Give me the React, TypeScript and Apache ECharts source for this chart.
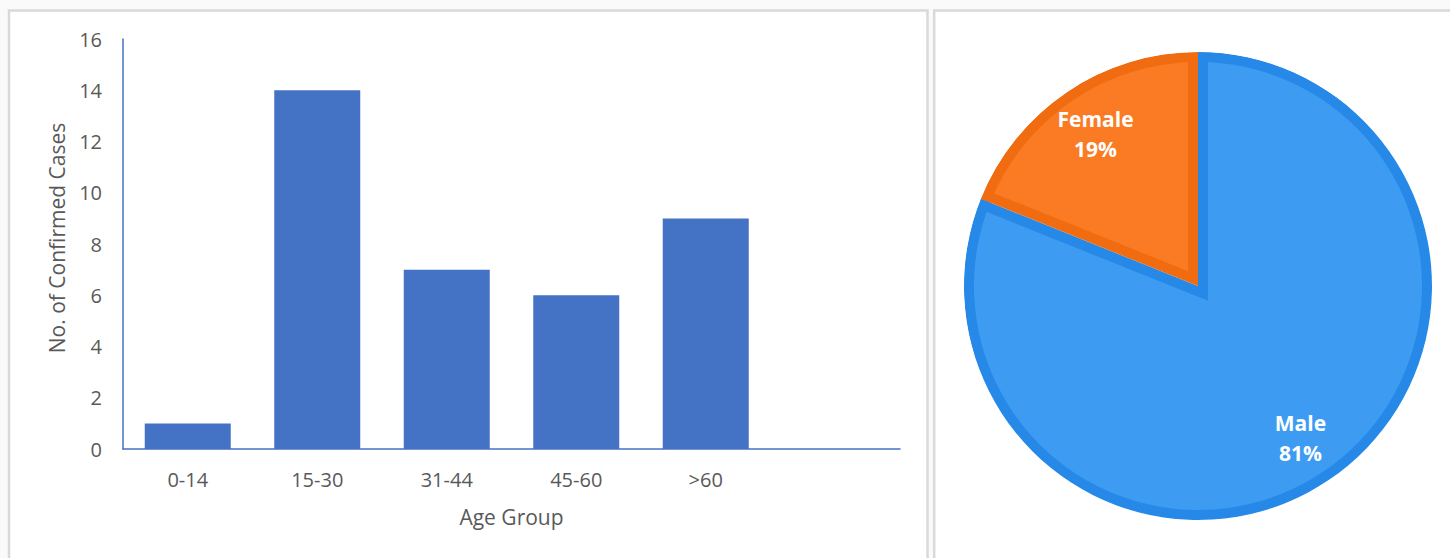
import React, { useEffect, useRef } from "react";
import * as echarts from "echarts";

const ageGroups = ["0-14", "15-30", "31-44", "45-60", ">60", ""];
const confirmedCases = [1, 14, 7, 6, 9, null];
const yTicks = { min: 0, max: 16, interval: 2 };

const genderNames = ["Male", "Female"];
const genderCounts = [30, 7];

const FONT = "'Open Sans', 'Noto Sans', sans-serif";
const GRAY = "#595959";
const BAR = "#4472c4";
const LIGHT = ["#3d9cf2", "#fa7b23"];
const DARK = ["#2689e8", "#f16b10"];

export default function App() {
  const ref = useRef<HTMLDivElement>(null);
  useEffect(() => {
    document.body.style.margin = "0";
    const chart = echarts.init(ref.current!, null, { renderer: "svg" });

    const cx = 1198;
    const cy = 286;
    const R = 234;
    const band = 10;
    const total = genderCounts.reduce((a, b) => a + b, 0);
    // Female bisector (math angle, degrees), slices run clockwise from 12 o'clock
    const femHalf = ((genderCounts[1] / total) * 360) / 2;
    const mid = ((90 + femHalf) * Math.PI) / 180;
    const d = band / Math.sin((femHalf * Math.PI) / 180);
    const ux = Math.cos(mid);
    const uy = -Math.sin(mid);
    const cf = [cx + d * ux, cy + d * uy];
    const cm = [cx - d * ux, cy - d * uy];

    const pieData = (colors: (string | null)[]) =>
      genderNames.map((n, i) => ({
        name: n,
        value: genderCounts[i],
        itemStyle: { color: colors[i] ?? "rgba(0,0,0,0)", borderWidth: 0 },
      }));

    const basePie = {
      type: "pie",
      silent: true,
      startAngle: 90,
      clockwise: true,
      avoidLabelOverlap: false,
      label: { show: false },
      labelLine: { show: false },
      emphasis: { disabled: true },
    };

    chart.setOption({
      animation: false,
      backgroundColor: "#fafafa",
      graphic: [
        {
          type: "rect",
          shape: { x: 9, y: 10.5, width: 918.5, height: 700 },
          style: { fill: "#ffffff", stroke: "#d9d9d9", lineWidth: 2.5 },
          silent: true,
        },
        {
          type: "rect",
          shape: { x: 934.2, y: 10.5, width: 700, height: 700 },
          style: { fill: "#ffffff", stroke: "#d9d9d9", lineWidth: 2.5 },
          silent: true,
        },
      ],
      grid: { left: 123, top: 39, width: 777, height: 410 },
      xAxis: {
        type: "category",
        data: ageGroups,
        axisLine: { show: true, lineStyle: { color: BAR, width: 1.5 } },
        axisTick: { show: false },
        axisLabel: { color: GRAY, fontSize: 20, fontFamily: FONT, margin: 20 },
        name: "Age Group",
        nameLocation: "middle",
        nameGap: 57,
        nameTextStyle: { color: GRAY, fontSize: 21, fontFamily: FONT },
      },
      yAxis: {
        type: "value",
        min: yTicks.min,
        max: yTicks.max,
        interval: yTicks.interval,
        splitLine: { show: false },
        axisLine: { show: true, lineStyle: { color: BAR, width: 1.5 } },
        axisTick: { show: false },
        axisLabel: { color: GRAY, fontSize: 20, fontFamily: FONT, margin: 21 },
        name: "No. of Confirmed Cases",
        nameLocation: "middle",
        nameGap: 56,
        nameTextStyle: {
          color: GRAY,
          fontSize: 21,
          fontFamily: FONT,
          padding: [0, 0, 0, 12],
        },
      },
      series: [
        {
          type: "bar",
          data: confirmedCases,
          barWidth: 86,
          itemStyle: { color: BAR },
          silent: true,
        },
        { ...basePie, center: [cx, cy], radius: R, data: pieData(DARK) },
        { ...basePie, center: cm, radius: 240, data: pieData([LIGHT[0], null]) },
        { ...basePie, center: cf, radius: 212, data: pieData([null, LIGHT[1]]) },
        { ...basePie, center: [cx, cy], radius: [R - band, R], data: pieData(DARK) },
        {
          ...basePie,
          center: [cx, cy],
          radius: [R, R + 26],
          data: pieData(["#ffffff", "#ffffff"]),
        },
        {
          ...basePie,
          center: [cx, cy],
          radius: [178.5, 181.5],
          data: pieData([null, null]),
          label: {
            show: true,
            position: "inside",
            color: "#ffffff",
            fontFamily: FONT,
            fontSize: 21,
            fontWeight: "bold",
            lineHeight: 30,
            formatter: (p: any) => `${p.name}\n${Math.round(p.percent)}%`,
          },
        },
      ],
    });
    return () => chart.dispose();
  }, []);
  return <div ref={ref} style={{ width: 1450, height: 558 }} />;
}
